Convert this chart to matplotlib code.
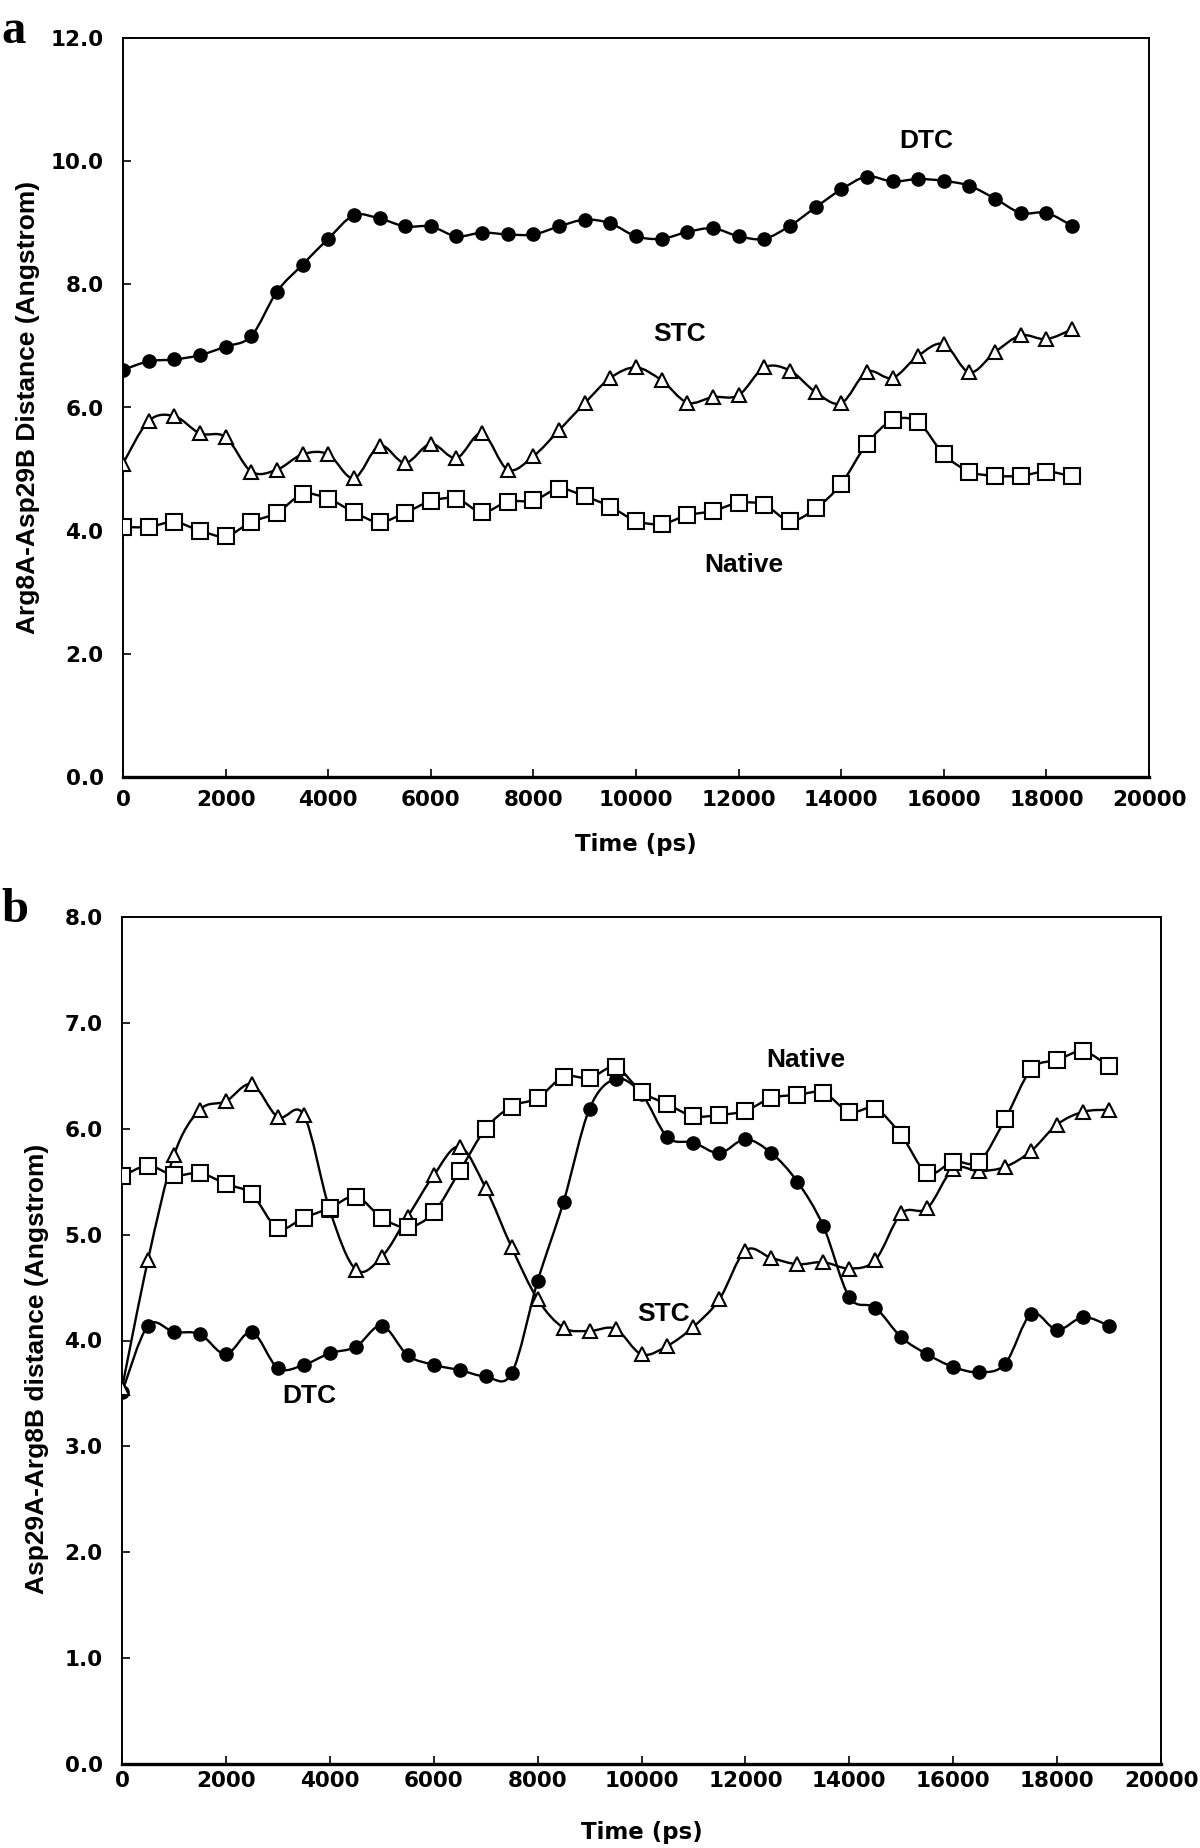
import numpy as np
import matplotlib
matplotlib.use("Agg")
import matplotlib.pyplot as plt
from matplotlib.path import Path
from matplotlib.patches import PathPatch

# ---------------- data ----------------
time_a = [0, 500, 1000, 1500, 2000, 2500, 3000, 3500, 4000, 4500,
          5000, 5500, 6000, 6500, 7000, 7500, 8000, 8500, 9000, 9500,
          10000, 10500, 11000, 11500, 12000, 12500, 13000, 13500, 14000, 14500,
          15000, 15500, 16000, 16500, 17000, 17500, 18000, 18500]

dtc_a = [6.61, 6.75, 6.78, 6.85, 6.99, 7.16, 7.88, 8.32, 8.74, 9.12,
         9.07, 8.94, 8.94, 8.78, 8.84, 8.81, 8.81, 8.94, 9.05, 8.99,
         8.78, 8.74, 8.85, 8.91, 8.78, 8.74, 8.95, 9.25, 9.54, 9.75,
         9.67, 9.71, 9.68, 9.60, 9.39, 9.16, 9.16, 8.95]

stc_a = [5.09, 5.78, 5.86, 5.58, 5.52, 4.96, 4.99, 5.24, 5.24, 4.85,
         5.38, 5.10, 5.41, 5.18, 5.58, 4.99, 5.21, 5.63, 6.07, 6.48,
         6.65, 6.44, 6.08, 6.17, 6.20, 6.65, 6.60, 6.25, 6.07, 6.58,
         6.48, 6.84, 7.03, 6.57, 6.90, 7.17, 7.11, 7.27]

native_a = [4.06, 4.06, 4.14, 4.00, 3.91, 4.14, 4.29, 4.59, 4.52, 4.30,
            4.14, 4.29, 4.48, 4.52, 4.30, 4.47, 4.49, 4.68, 4.56, 4.39,
            4.16, 4.11, 4.25, 4.32, 4.45, 4.42, 4.16, 4.36, 4.76, 5.41,
            5.79, 5.76, 5.24, 4.96, 4.89, 4.89, 4.96, 4.88]

time_b = [0, 500, 1000, 1500, 2000, 2500, 3000, 3500, 4000, 4500,
          5000, 5500, 6000, 6500, 7000, 7500, 8000, 8500, 9000, 9500,
          10000, 10500, 11000, 11500, 12000, 12500, 13000, 13500, 14000, 14500,
          15000, 15500, 16000, 16500, 17000, 17500, 18000, 18500, 19000]

dtc_b = [3.51, 4.14, 4.08, 4.06, 3.87, 4.08, 3.74, 3.77, 3.88, 3.94,
         4.14, 3.86, 3.77, 3.72, 3.66, 3.69, 4.56, 5.31, 6.19, 6.47,
         6.33, 5.92, 5.87, 5.77, 5.90, 5.77, 5.50, 5.08, 4.41, 4.31,
         4.03, 3.87, 3.75, 3.70, 3.78, 4.25, 4.10, 4.22, 4.14]

stc_b = [3.55, 4.76, 5.75, 6.18, 6.26, 6.42, 6.11, 6.13, 5.23, 4.67,
         4.79, 5.17, 5.56, 5.83, 5.44, 4.88, 4.39, 4.12, 4.09, 4.11,
         3.87, 3.95, 4.13, 4.39, 4.85, 4.78, 4.72, 4.74, 4.68, 4.76,
         5.20, 5.25, 5.62, 5.60, 5.64, 5.79, 6.04, 6.16, 6.18]

native_b = [5.55, 5.65, 5.56, 5.58, 5.48, 5.38, 5.06, 5.16, 5.25, 5.36,
            5.16, 5.07, 5.21, 5.60, 6.00, 6.21, 6.29, 6.49, 6.48, 6.58,
            6.35, 6.23, 6.12, 6.13, 6.17, 6.29, 6.32, 6.34, 6.16, 6.19,
            5.94, 5.58, 5.69, 5.69, 6.09, 6.56, 6.65, 6.73, 6.59]

x_ticks = [0, 2000, 4000, 6000, 8000, 10000, 12000, 14000, 16000, 18000, 20000]
y_ticks_a = [0, 2, 4, 6, 8, 10, 12]
y_ticks_b = [0, 1, 2, 3, 4, 5, 6, 7, 8]

ylabel_a = "Arg8A-Asp29B Distance (Angstrom)"
ylabel_b = "Asp29A-Arg8B distance (Angstrom)"
xlabel = "Time (ps)"

# series label anchor positions (data coords)
labels_a = {"DTC": (15660, 10.32), "STC": (10840, 7.20), "Native": (12100, 3.45)}
labels_b = {"Native": (13160, 6.65), "STC": (10430, 4.25), "DTC": (3600, 3.48)}

# ---------------- style ----------------
TICK_FONT = dict(family="DejaVu Sans", weight="bold", size=15.5)
LABEL_FONT = dict(family="Liberation Sans", weight="bold", size=19)
XLABEL_FONT = dict(family="DejaVu Sans", weight="bold", size=16.5)

styles = {
    "DTC": dict(marker="o", ms=9.5, mfc="black", mec="black", mew=1.0),
    "STC": dict(marker="^", ms=10, mfc="white", mec="black", mew=1.5),
    "Native": dict(marker="s", ms=11.5, mfc="white", mec="black", mew=1.5),
}


def smooth_path(x, y):
    x = np.asarray(x, float)
    y = np.asarray(y, float)
    n = len(x)
    verts = [(x[0], y[0])]
    codes = [Path.MOVETO]
    for i in range(n - 1):
        i0 = max(i - 1, 0)
        i3 = min(i + 2, n - 1)
        c1 = (x[i] + (x[i + 1] - x[i0]) / 6.0, y[i] + (y[i + 1] - y[i0]) / 6.0)
        c2 = (x[i + 1] - (x[i3] - x[i]) / 6.0, y[i + 1] - (y[i3] - y[i]) / 6.0)
        verts += [c1, c2, (x[i + 1], y[i + 1])]
        codes += [Path.CURVE4] * 3
    return Path(verts, codes)


def draw_series(ax, t, v, name, z):
    patch = PathPatch(smooth_path(t, v), facecolor="none", edgecolor="black",
                      lw=1.7, zorder=z, transform=ax.transData)
    ax.add_patch(patch)
    st = styles[name]
    ax.plot(t, v, linestyle="none", marker=st["marker"], markersize=st["ms"],
            markerfacecolor=st["mfc"], markeredgecolor=st["mec"],
            markeredgewidth=st["mew"], zorder=z + 0.5)


def style_axes(ax, yticks, ylim, xpad):
    ax.set_xlim(0, 20000)
    ax.set_ylim(*ylim)
    ax.set_xticks(x_ticks)
    ax.set_yticks(yticks)
    ax.set_xticklabels([str(v) for v in x_ticks], fontdict=TICK_FONT)
    ax.set_yticklabels(["%.1f" % v for v in yticks], fontdict=TICK_FONT)
    ax.tick_params(axis="both", direction="in", length=6, width=1.2,
                   top=False, right=False)
    ax.tick_params(axis="y", pad=14)
    ax.tick_params(axis="x", pad=xpad)
    for s in ["left", "right", "top"]:
        ax.spines[s].set_linewidth(1.4)
    ax.spines["bottom"].set_linewidth(2.4)


fig = plt.figure(figsize=(12, 18.48), dpi=100)
fig.patch.set_facecolor("white")

ax_a = fig.add_axes([123 / 1200, 1 - 777 / 1848, 1026 / 1200, 739 / 1848])
ax_b = fig.add_axes([122 / 1200, 1 - 1764 / 1848, 1039 / 1200, 847 / 1848])

# panel a
draw_series(ax_a, time_a, dtc_a, "DTC", 3)
draw_series(ax_a, time_a, stc_a, "STC", 4)
draw_series(ax_a, time_a, native_a, "Native", 5)
style_axes(ax_a, y_ticks_a, (0, 12), 9)
ax_a.set_xlabel(xlabel, fontdict=XLABEL_FONT, labelpad=17)
ax_a.set_ylabel(ylabel_a, fontdict=LABEL_FONT)
ax_a.yaxis.set_label_coords(-0.081, 0.5)
for name, (tx, ty) in labels_a.items():
    ax_a.text(tx, ty, name, ha="center", va="center", **LABEL_FONT, zorder=10)

# panel b
draw_series(ax_b, time_b, dtc_b, "DTC", 3)
draw_series(ax_b, time_b, stc_b, "STC", 4)
draw_series(ax_b, time_b, native_b, "Native", 5)
style_axes(ax_b, y_ticks_b, (0, 8), 5)
ax_b.set_xlabel(xlabel, fontdict=XLABEL_FONT, labelpad=22)
ax_b.set_ylabel(ylabel_b, fontdict=LABEL_FONT)
ax_b.yaxis.set_label_coords(-0.070, 0.467)
for name, (tx, ty) in labels_b.items():
    ax_b.text(tx, ty, name, ha="center", va="center", **LABEL_FONT, zorder=10)

# panel letters
fig.text(1 / 1200, 1 - 43 / 1848, "a", family="Liberation Serif", weight="bold",
         size=35, ha="left", va="baseline")
fig.text(1 / 1200, 1 - 922 / 1848, "b", family="Liberation Serif", weight="bold",
         size=35, ha="left", va="baseline")

fig.savefig("out.png", dpi=100, facecolor="white")
